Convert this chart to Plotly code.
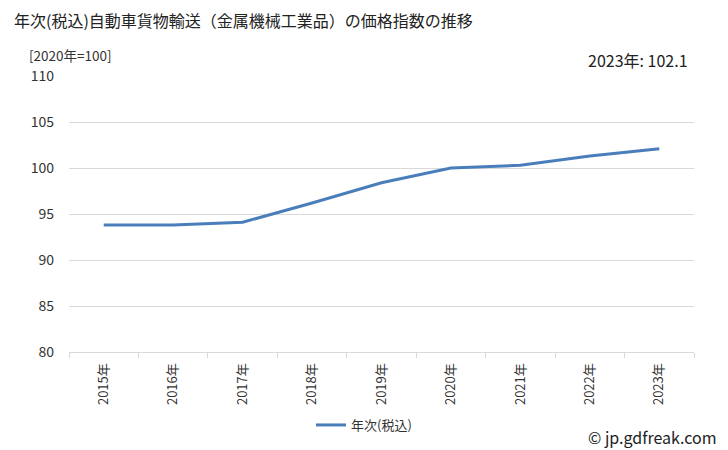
import plotly.graph_objects as go

years = ["2015年", "2016年", "2017年", "2018年", "2019年", "2020年", "2021年", "2022年", "2023年"]
values = [93.8, 93.8, 94.1, 96.2, 98.4, 100.0, 100.3, 101.3, 102.1]
series_name = "年次(税込)"
title = "年次(税込)自動車貨物輸送（金属機械工業品）の価格指数の推移"
unit_label = "[2020年=100]"
latest_label = "2023年: 102.1"
credit = "© jp.gdfreak.com"

FONT = "Noto Sans CJK JP, Meiryo, sans-serif"

L, R, T, B = 69, 34, 76, 98
PW, PH = 728 - L - R, 450 - T - B

fig = go.Figure()
fig.add_trace(go.Scatter(
    x=years, y=values, mode="lines", name=series_name,
    line=dict(color="#4a7ebb", width=3),
))

fig.update_layout(
    width=728, height=450,
    margin=dict(l=L, r=R, t=T, b=B),
    paper_bgcolor="white", plot_bgcolor="white",
    font=dict(family=FONT, size=13, color="#333333"),
    showlegend=True,
    legend=dict(orientation="h", x=0.5, xanchor="center", xref="container",
                y=25/450, yanchor="middle", yref="container",
                font=dict(size=13, color="#333333"), itemwidth=30),
    xaxis=dict(
        type="category", tickangle=-90, showgrid=False, automargin=False,
        range=[-0.5, len(years) - 0.5],
        showline=True, linecolor="#d9d9d9", linewidth=1,
        ticks="outside", tickson="boundaries", ticklen=5, tickcolor="#d9d9d9",
        ticklabelstandoff=5,
        tickfont=dict(size=13, color="#333333"),
    ),
    yaxis=dict(
        range=[80, 110], dtick=5, showgrid=True, gridcolor="#d9d9d9",
        zeroline=False, showline=False, ticks="", ticklabelstandoff=14,
        automargin=False,
        tickfont=dict(size=14, color="#333333"),
    ),
)

fig.add_annotation(text=title, xref="paper", yref="paper", x=(12 - L) / PW, y=1 + (T - 20) / PH,
                   xanchor="left", yanchor="middle", showarrow=False,
                   font=dict(size=16, color="#222222"))
fig.add_annotation(text=unit_label, xref="paper", yref="paper", x=(27 - L) / PW, y=1 + (T - 55) / PH,
                   xanchor="left", yanchor="middle", showarrow=False,
                   font=dict(size=13.5, color="#333333"))
fig.add_annotation(text=latest_label, xref="paper", yref="paper", x=(690 - L) / PW, y=1 + (T - 60) / PH,
                   xanchor="right", yanchor="middle", showarrow=False,
                   font=dict(size=16, color="#222222"))
fig.add_annotation(text=credit, xref="paper", yref="paper", x=(719 - L) / PW, y=-(437 - (450 - B)) / PH,
                   xanchor="right", yanchor="middle", showarrow=False,
                   font=dict(size=16, color="#222222"))

fig.write_html("out.html")
